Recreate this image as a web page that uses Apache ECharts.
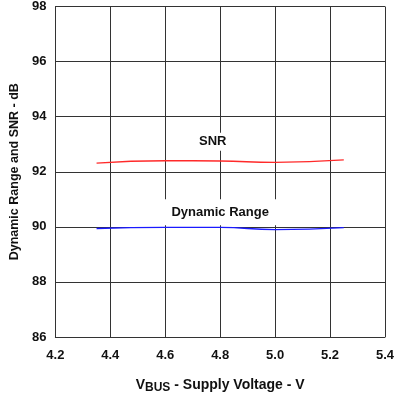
<!DOCTYPE html>
<html>
<head>
<meta charset="utf-8">
<script src="https://cdn.jsdelivr.net/npm/echarts@6/dist/echarts.min.js"></script>
<style>
  html, body { margin: 0; padding: 0; background: #fff; }
  #chart { width: 398px; height: 399px; }
</style>
</head>
<body>
<div id="chart"></div>
<script>
// Data
const voltage = [4.35, 4.6, 4.8, 5.0, 5.25];
const snr = [92.31, 92.4, 92.39, 92.34, 92.43];
const dynamicRange = [89.94, 89.98, 89.98, 89.9, 89.97];

// label positions (data coords)
const snrLabel = [4.773, 93.09];
const drLabel = [4.8, 90.53];

var chartDom = document.getElementById('chart');
var myChart = echarts.init(chartDom);
var option;

const font = 'Liberation Sans, Arial, sans-serif';
const gridColor = '#333';

option = {
  animation: false,
  grid: { left: 52, right: 13, top: 5, bottom: 62 },
  xAxis: {
    type: 'value',
    min: 4.2,
    max: 5.4,
    interval: 0.2,
    axisLine: { lineStyle: { color: gridColor } },
    axisTick: { show: false },
    splitLine: { show: true, lineStyle: { color: gridColor, width: 1 } },
    axisLabel: {
      color: '#111',
      fontFamily: font,
      fontWeight: 'bold',
      fontSize: 13,
      margin: 12,
      formatter: (v) => v.toFixed(1),
    },
    name: '{v|V}{sub|BUS}{v| - Supply Voltage - V}',
    nameLocation: 'middle',
    nameGap: 39,
    nameTextStyle: {
      rich: {
        v: { fontFamily: font, fontWeight: 'bold', fontSize: 14, color: '#111' },
        sub: { fontFamily: font, fontWeight: 'bold', fontSize: 12, color: '#111', verticalAlign: 'bottom', padding: [6, 0, 0, 0] },
      },
    },
  },
  yAxis: {
    type: 'value',
    min: 86,
    max: 98,
    interval: 2,
    axisLine: { show: true, lineStyle: { color: gridColor } },
    axisTick: { show: false },
    splitLine: { show: true, lineStyle: { color: gridColor, width: 1 } },
    axisLabel: {
      color: '#111',
      fontFamily: font,
      fontWeight: 'bold',
      fontSize: 13,
      margin: 9,
    },
    name: 'Dynamic Range and SNR - dB',
    nameLocation: 'middle',
    nameGap: 31,
    nameTextStyle: { fontFamily: font, fontWeight: 'bold', fontSize: 12.5, color: '#111' },
  },
  series: [
    {
      name: 'SNR',
      type: 'line',
      smooth: true,
      symbol: 'none',
      lineStyle: { color: '#ff2a2a', width: 1.3 },
      data: voltage.map((x, i) => [x, snr[i]]),
      markPoint: {
        symbol: 'rect',
        symbolSize: [36, 18],
        itemStyle: { color: '#fff' },
        label: {
          show: true,
          position: 'inside',
          formatter: 'SNR',
          fontFamily: font,
          fontWeight: 'bold',
          fontSize: 13,
          color: '#111',
        },
        data: [{ coord: snrLabel }],
      },
    },
    {
      name: 'Dynamic Range',
      type: 'line',
      smooth: true,
      symbol: 'none',
      lineStyle: { color: '#1a1aff', width: 1.3 },
      data: voltage.map((x, i) => [x, dynamicRange[i]]),
      markPoint: {
        symbol: 'rect',
        symbolSize: [116, 26],
        itemStyle: { color: '#fff' },
        label: {
          show: true,
          position: 'inside',
          formatter: 'Dynamic Range',
          fontFamily: font,
          fontWeight: 'bold',
          fontSize: 13,
          color: '#111',
        },
        data: [{ coord: drLabel }],
      },
    },
  ],
};

option && myChart.setOption(option);
</script>
</body>
</html>
